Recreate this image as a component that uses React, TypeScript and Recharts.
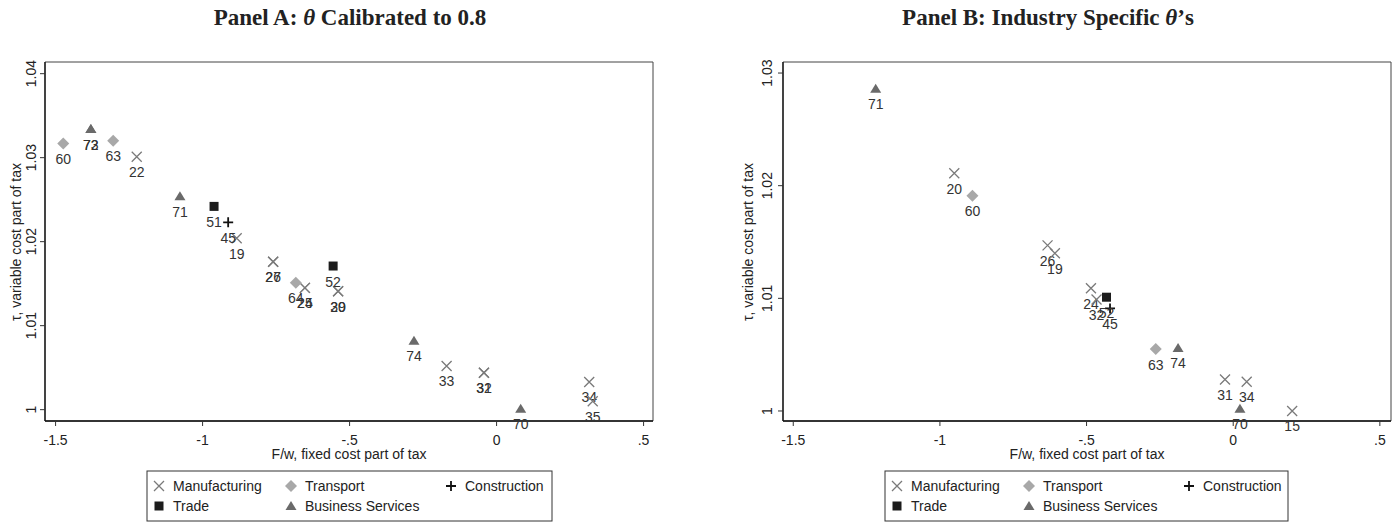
import React from "react";
import { ScatterChart, Scatter, XAxis, YAxis, ReferenceArea } from "recharts";

// axis ticks (Stata style labels)
const xTicks = [-1.5, -1, -0.5, 0, 0.5];
const xTickLabels = ["-1.5", "-1", "-.5", "0", ".5"];
const yTicksA = [1, 1.01, 1.02, 1.03, 1.04];
const yTickLabelsA = ["1", "1.01", "1.02", "1.03", "1.04"];
const yTicksB = [1, 1.01, 1.02, 1.03];
const yTickLabelsB = ["1", "1.01", "1.02", "1.03"];

// Panel A: theta calibrated to 0.8
const aMfgCodes = ["22", "19", "26", "27", "24", "25", "29", "30", "33", "31", "32", "34", "35"];
const aMfgX = [-1.224, -0.884, -0.76, -0.76, -0.652, -0.652, -0.539, -0.539, -0.17, -0.043, -0.043, 0.315, 0.327];
const aMfgY = [1.0301, 1.0204, 1.0176, 1.0176, 1.0145, 1.0145, 1.0141, 1.0141, 1.0052, 1.0044, 1.0044, 1.0033, 1.001];
const aTrnCodes = ["60", "63", "64"];
const aTrnX = [-1.474, -1.304, -0.683];
const aTrnY = [1.0317, 1.032, 1.0151];
const aConCodes = ["45"];
const aConX = [-0.913];
const aConY = [1.0223];
const aTrdCodes = ["51", "52"];
const aTrdX = [-0.961, -0.556];
const aTrdY = [1.0242, 1.0171];
const aBusCodes = ["72", "73", "71", "74", "70"];
const aBusX = [-1.38, -1.38, -1.077, -0.281, 0.082];
const aBusY = [1.0334, 1.0334, 1.0254, 1.0082, 1.0001];

// Panel B: industry specific thetas
const bMfgCodes = ["20", "26", "19", "24", "32", "31", "34", "15"];
const bMfgX = [-0.951, -0.633, -0.608, -0.485, -0.466, -0.028, 0.046, 0.201];
const bMfgY = [1.0211, 1.0147, 1.014, 1.0109, 1.0099, 1.0028, 1.0026, 1.0];
const bTrnCodes = ["60", "63"];
const bTrnX = [-0.889, -0.264];
const bTrnY = [1.0191, 1.0055];
const bConCodes = ["45"];
const bConX = [-0.42];
const bConY = [1.0091];
const bTrdCodes = ["52"];
const bTrdX = [-0.432];
const bTrdY = [1.0101];
const bBusCodes = ["71", "74", "70"];
const bBusX = [-1.219, -0.188, 0.023];
const bBusY = [1.0286, 1.0056, 1.0002];

const sectorNames = ["Manufacturing", "Transport", "Construction", "Trade", "Business Services"];
const sectorKinds = ["x", "diamond", "plus", "square", "triangle"];
const sectorColors = ["#7a7a7a", "#a8a8a8", "#111111", "#1c1c1c", "#6a6a6a"];

const zip = (codes: string[], xs: number[], ys: number[]) =>
  codes.map((code, i) => ({ code, x: xs[i], y: ys[i] }));

const panelA = [
  zip(aMfgCodes, aMfgX, aMfgY),
  zip(aTrnCodes, aTrnX, aTrnY),
  zip(aConCodes, aConX, aConY),
  zip(aTrdCodes, aTrdX, aTrdY),
  zip(aBusCodes, aBusX, aBusY),
];
const panelB = [
  zip(bMfgCodes, bMfgX, bMfgY),
  zip(bTrnCodes, bTrnX, bTrnY),
  zip(bConCodes, bConX, bConY),
  zip(bTrdCodes, bTrdX, bTrdY),
  zip(bBusCodes, bBusX, bBusY),
];

const SANS = "'Liberation Sans', Arial, sans-serif";
const SERIF = "'Liberation Serif', 'Times New Roman', serif";

function Marker({ kind, color, cx, cy }: any) {
  switch (kind) {
    case "x":
      return (
        <path
          d={`M${cx - 5},${cy - 5}L${cx + 5},${cy + 5}M${cx - 5},${cy + 5}L${cx + 5},${cy - 5}`}
          stroke={color}
          strokeWidth={1.3}
          fill="none"
        />
      );
    case "diamond":
      return <path d={`M${cx},${cy - 6}L${cx + 6},${cy}L${cx},${cy + 6}L${cx - 6},${cy}Z`} fill={color} />;
    case "square":
      return <rect x={cx - 4.5} y={cy - 4.5} width={9} height={9} fill={color} />;
    case "triangle":
      return <path d={`M${cx},${cy - 5}L${cx + 5.5},${cy + 4}L${cx - 5.5},${cy + 4}Z`} fill={color} />;
    default:
      return (
        <path
          d={`M${cx - 5},${cy}L${cx + 5},${cy}M${cx},${cy - 5}L${cx},${cy + 5}`}
          stroke={color}
          strokeWidth={1.8}
          fill="none"
        />
      );
  }
}

const makeShape = (kind: string, color: string) => (props: any) => {
  const { cx, cy, payload } = props;
  return (
    <g>
      <Marker kind={kind} color={color} cx={cx} cy={cy} />
      <text x={cx} y={cy + 20.5} textAnchor="middle" fontSize={14} fontFamily={SANS} fill="#333">
        {payload.code}
      </text>
    </g>
  );
};

const XTick = ({ x, y, payload }: any) => (
  <text x={x} y={y} textAnchor="middle" fontSize={14} fontFamily={SANS} fill="#222">
    {xTickLabels[xTicks.indexOf(payload.value)]}
  </text>
);

const makeYTick = (ticks: number[], labels: string[]) => ({ x, y, payload }: any) => (
  <text
    x={x}
    y={y}
    transform={`rotate(-90, ${x}, ${y})`}
    textAnchor="middle"
    fontSize={14}
    fontFamily={SANS}
    fill="#222"
  >
    {labels[ticks.indexOf(payload.value)]}
  </text>
);

function Legend({ left, top, width, height }: any) {
  const cols = [
    [12, 26],
    [144, 158],
    [304, 318],
  ];
  const slots = [
    [0, 0],
    [1, 0],
    [2, 0],
    [0, 1],
    [1, 1],
  ];
  return (
    <g>
      <rect x={left} y={top} width={width} height={height} fill="none" stroke="#333" strokeWidth={1} />
      {sectorNames.map((name, i) => {
        const [c, r] = slots[i];
        const cy = top + 15 + r * 20;
        return (
          <g key={name}>
            <Marker kind={sectorKinds[i]} color={sectorColors[i]} cx={left + cols[c][0]} cy={cy} />
            <text x={left + cols[c][1]} y={cy + 5} fontSize={14} fontFamily={SANS} fill="#222">
              {name}
            </text>
          </g>
        );
      })}
    </g>
  );
}

function Panel({ series, title, xDomain, yDomain, yTicks, yLabels, plotLeft, plotRight, tickMargin, yTitleX, titleX, legendLeft, legendWidth }: any) {
  const xCenter = (plotLeft + plotRight) / 2;
  return (
    <div style={{ position: "relative", width: 700, height: 522 }}>
      <ScatterChart width={700} height={522} margin={{ top: 62, right: 700 - plotRight, bottom: 71, left: 0 }}>
        <XAxis
          type="number"
          dataKey="x"
          domain={xDomain}
          ticks={xTicks}
          interval={0}
          height={30}
          tickSize={5}
          tickMargin={19}
          tick={<XTick />}
          axisLine={{ stroke: "#111", strokeWidth: 1.3 }}
          tickLine={{ stroke: "#333" }}
        />
        <YAxis
          type="number"
          dataKey="y"
          domain={yDomain}
          ticks={yTicks}
          interval={0}
          width={plotLeft}
          tickSize={5}
          tickMargin={tickMargin}
          tick={makeYTick(yTicks, yLabels)}
          axisLine={{ stroke: "#111", strokeWidth: 1.3 }}
          tickLine={{ stroke: "#333" }}
        />
        <ReferenceArea
          x1={xDomain[0]}
          x2={xDomain[1]}
          y1={yDomain[0]}
          y2={yDomain[1]}
          fill="none"
          stroke="#444"
          strokeWidth={1}
        />
        {series.map((rows: any[], i: number) => (
          <Scatter
            key={sectorNames[i]}
            name={sectorNames[i]}
            data={rows}
            isAnimationActive={false}
            shape={makeShape(sectorKinds[i], sectorColors[i])}
          />
        ))}
      </ScatterChart>
      <svg width={700} height={522} style={{ position: "absolute", left: 0, top: 0, pointerEvents: "none" }}>
        <text x={titleX} y={25} textAnchor="middle" fontSize={23} fontWeight="bold" fontFamily={SERIF} fill="#222">
          {title}
        </text>
        <text
          x={yTitleX}
          y={242}
          transform={`rotate(-90, ${yTitleX}, 242)`}
          textAnchor="middle"
          fontSize={14}
          fontFamily={SANS}
          fill="#222"
        >
          τ, variable cost part of tax
        </text>
        <text x={xCenter} y={459} textAnchor="middle" fontSize={14} fontFamily={SANS} fill="#222">
          F/w, fixed cost part of tax
        </text>
        <Legend left={legendLeft} top={471} width={legendWidth} height={50} />
      </svg>
    </div>
  );
}

export default function App() {
  return (
    <div style={{ position: "absolute", left: 0, top: 0, width: 1400, height: 522, display: "flex", background: "#fff" }}>
      <Panel
        series={panelA}
        title={
          <>
            Panel A: <tspan fontStyle="italic">θ</tspan> Calibrated to 0.8
          </>
        }
        xDomain={[-1.536, 0.532]}
        yDomain={[0.99865, 1.04139]}
        yTicks={yTicksA}
        yLabels={yTickLabelsA}
        plotLeft={45}
        plotRight={653}
        tickMargin={4}
        yTitleX={21}
        titleX={350}
        legendLeft={147}
        legendWidth={405}
      />
      <Panel
        series={panelB}
        title={
          <>
            Panel B: Industry Specific <tspan fontStyle="italic">θ</tspan>’s
          </>
        }
        xDomain={[-1.535, 0.538]}
        yDomain={[0.99911, 1.03098]}
        yTicks={yTicksB}
        yLabels={yTickLabelsB}
        plotLeft={83}
        plotRight={691}
        tickMargin={6}
        yTitleX={53}
        titleX={348}
        legendLeft={185}
        legendWidth={403}
      />
    </div>
  );
}
